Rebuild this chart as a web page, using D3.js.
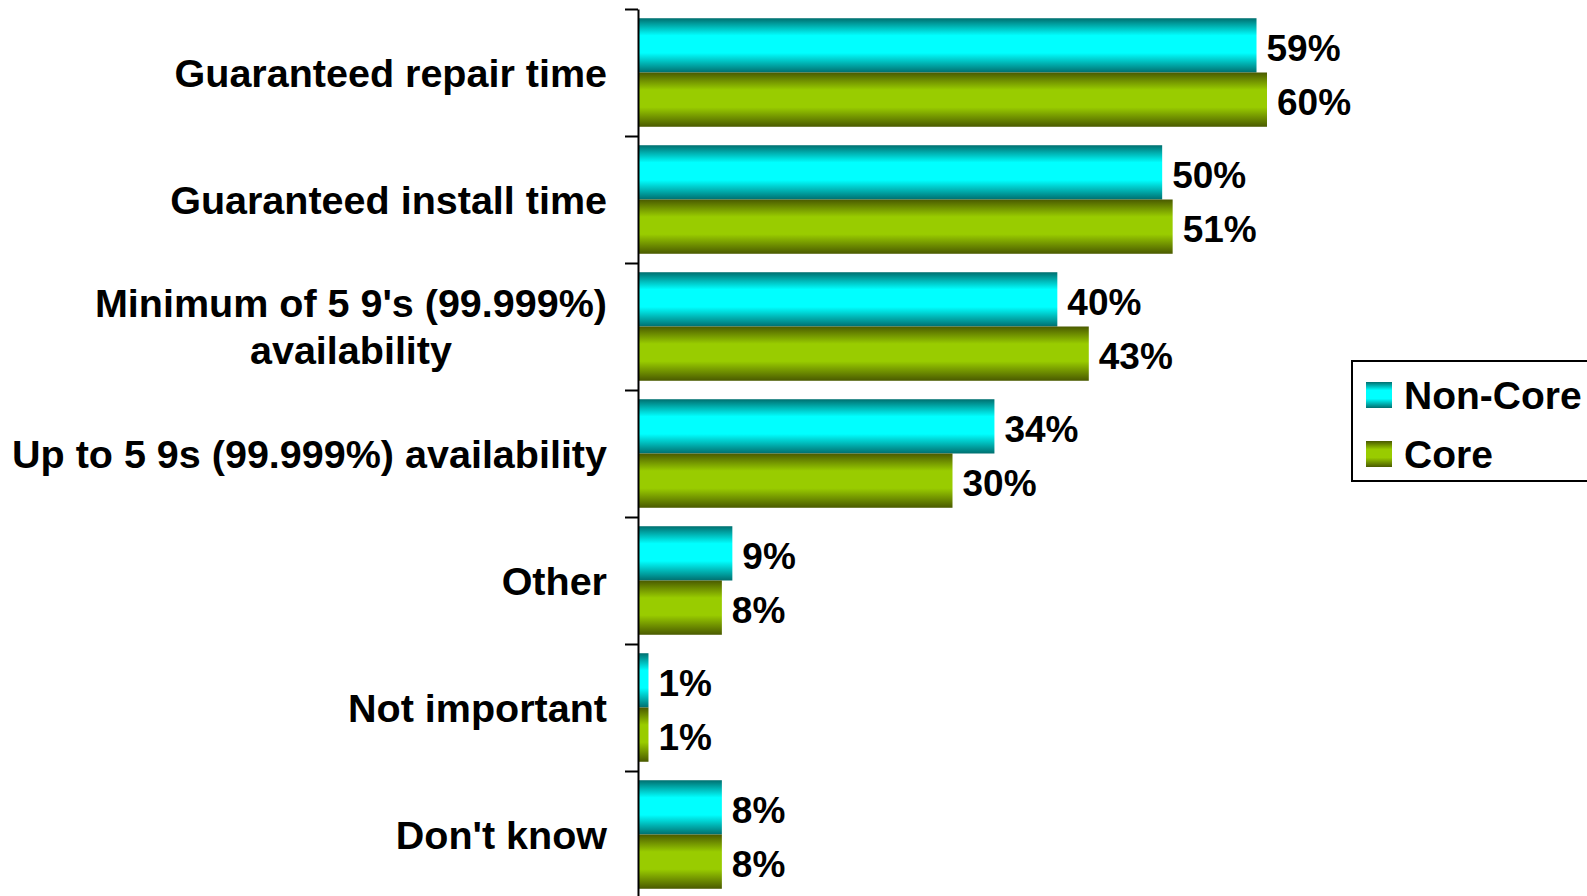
<!DOCTYPE html>
<html>
<head>
<meta charset="utf-8">
<script src="https://cdn.jsdelivr.net/npm/d3@7"></script>
<style>
  body { margin: 0; background: #fff; }
  text { font-family: "Liberation Sans", Arial, sans-serif; font-weight: bold; fill: #000; }
</style>
</head>
<body>
<div id="chart"></div>
<script>
// survey answers, two groups of respondents
const categories = ["Guaranteed repair time", "Guaranteed install time",
  "Minimum of 5 9's (99.999%) availability", "Up to 5 9s (99.999%) availability",
  "Other", "Not important", "Don't know"];
const labelLines = [["Guaranteed repair time"], ["Guaranteed install time"],
  ["Minimum of 5 9's (99.999%)", "availability"], ["Up to 5 9s (99.999%) availability"],
  ["Other"], ["Not important"], ["Don't know"]];
const seriesNames = ["Non-Core", "Core"];
const nonCore = [59, 50, 40, 34, 9, 1, 8];
const core = [60, 51, 43, 30, 8, 1, 8];

const width = 1587, height = 896;
const axisX = 638;

let svg = d3.select("#chart").append("svg")
  .attr("width", width)
  .attr("height", height);

// cylinder-like shading
const defs = svg.append("defs");
function addGrad(id, edge, mid) {
  let g = defs.append("linearGradient").attr("id", id)
    .attr("x1", 0).attr("y1", 0).attr("x2", 0).attr("y2", 1);
  g.append("stop").attr("offset", "0%").attr("stop-color", edge);
  g.append("stop").attr("offset", "32%").attr("stop-color", mid);
  g.append("stop").attr("offset", "64%").attr("stop-color", mid);
  g.append("stop").attr("offset", "100%").attr("stop-color", edge);
}
addGrad("gNon", "#006f6f", "#00ffff");
addGrad("gCore", "#4a5a00", "#99cc00");
const fills = { "Non-Core": "url(#gNon)", "Core": "url(#gCore)" };

let x = d3.scaleLinear().domain([0, 60]).range([axisX, axisX + 629]);
let y0 = d3.scaleBand().domain(categories).range([9, 9 + 7 * 127]).padding(0);
let y1 = d3.scaleBand().domain(seriesNames).range([0, y0.bandwidth()])
  .paddingInner(0).paddingOuter(0.17);

let rows = categories.map((c, i) => ({ cat: c, lines: labelLines[i], vals: [nonCore[i], core[i]] }));

let groups = svg.append("g").selectAll("g")
  .data(rows)
  .join("g")
  .attr("transform", d => "translate(0," + y0(d.cat) + ")");

groups.selectAll("rect")
  .data(d => d.vals.map((v, j) => ({ s: seriesNames[j], v: v })))
  .join("rect")
  .attr("x", x(0))
  .attr("y", d => y1(d.s))
  .attr("width", d => x(d.v) - x(0))
  .attr("height", y1.bandwidth())
  .attr("fill", d => fills[d.s]);

groups.selectAll("text.val")
  .data(d => d.vals.map((v, j) => ({ s: seriesNames[j], v: v })))
  .join("text")
  .attr("class", "val")
  .attr("x", d => x(d.v) + 10)
  .attr("y", d => y1(d.s) + y1.bandwidth() / 2 + 37 * 0.36 + 2)
  .style("font-size", "37px")
  .text(d => d.v + "%");

// category labels, lines centred on each other, right edge near the axis
const labRight = 607, fs = 39.5, lh = 47;
groups.each(function (d) {
  let t = d3.select(this).append("text")
    .attr("class", "cat")
    .style("font-size", fs + "px")
    .attr("text-anchor", "middle");
  let n = d.lines.length;
  let mid = y0.bandwidth() / 2;
  d.lines.forEach((l, k) => {
    t.append("tspan")
      .attr("x", 0)
      .attr("y", mid + (k - (n - 1) / 2) * lh + fs * 0.36)
      .text(l);
  });
  let w = d3.max(t.selectAll("tspan").nodes(), n => n.getComputedTextLength());
  t.selectAll("tspan").attr("x", labRight - w / 2);
});

// axis with ticks between the categories
let tickScale = d3.scaleLinear().domain([0, 7]).range([9, 9 + 7 * 127]);
let ax = svg.append("g")
  .attr("transform", "translate(" + axisX + ",0)")
  .call(d3.axisLeft(tickScale).ticks(7).tickFormat("").tickSizeInner(13).tickSizeOuter(0));
ax.select(".domain").attr("stroke", "#000").attr("stroke-width", 2);
ax.selectAll(".tick line").attr("stroke", "#000").attr("stroke-width", 2);

// legend
let leg = svg.append("g");
leg.append("rect")
  .attr("x", 1352).attr("y", 361)
  .attr("width", 260).attr("height", 120)
  .attr("fill", "#fff").attr("stroke", "#000").attr("stroke-width", 2);
seriesNames.forEach((s, i) => {
  let yy = 382 + i * 59;
  leg.append("rect")
    .attr("x", 1366).attr("y", yy)
    .attr("width", 26).attr("height", 26)
    .attr("fill", fills[s]);
  leg.append("text")
    .attr("x", 1404).attr("y", yy + 27)
    .style("font-size", "39px")
    .text(s);
});
</script>
</body>
</html>
